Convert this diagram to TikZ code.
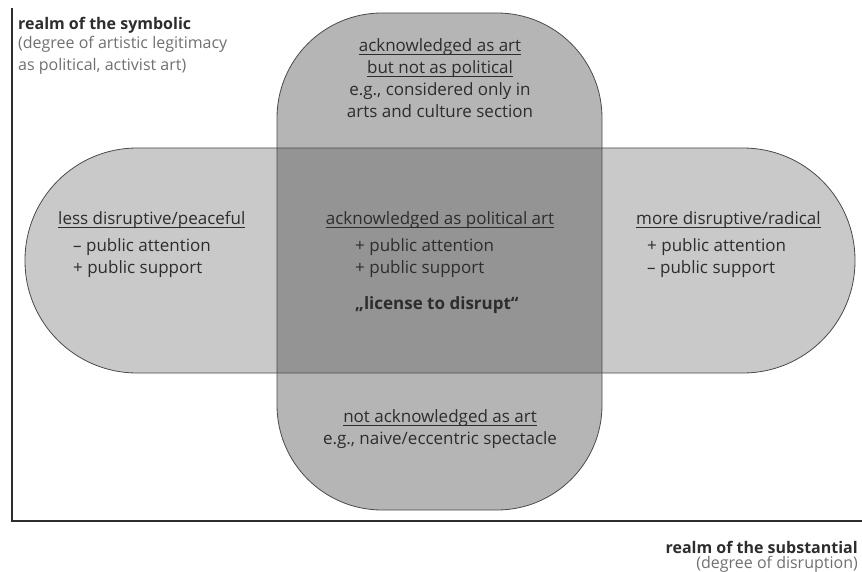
\documentclass[tikz,border=0pt]{standalone}
\usepackage{fontspec}
\setmainfont{Open Sans}
\usepackage{tikz}
\usetikzlibrary{positioning}

% underline sitting close to the baseline
\newcommand{\ulin}[1]{\setbox0\hbox{#1}\leavevmode\rlap{\rule[-3pt]{\wd0}{0.7pt}}\box0}

\definecolor{bandgray}{HTML}{C9C9C9}
\definecolor{stemgray}{HTML}{B5B5B5}
\definecolor{coregray}{HTML}{949494}
\definecolor{linegray}{HTML}{4A4A4A}
\definecolor{inkgray}{HTML}{2D2D2D}
\definecolor{notegray}{HTML}{707070}

\tikzset{
  txt/.style={font=\fontsize{17}{22}\selectfont, text=inkgray, inner sep=0pt},
  axistxt/.style={txt, font=\fontsize{16}{22}\selectfont},
  note/.style={axistxt, text=notegray},
  outline/.style={draw=linegray, line width=0.8pt},
  axis/.style={draw=inkgray, line width=2pt}
}

\begin{document}
\begin{tikzpicture}[x=1pt,y=-1pt]
        \useasboundingbox (0,0) rectangle (862,572);

        % Horizontal band: degree of disruption
        \fill[bandgray, rounded corners=112] (25,148) rectangle (855,373);
        % Vertical band: artistic legitimacy
        \fill[stemgray, rounded corners=105] (277,13) rectangle (602,510);
        % Where both bands meet
        \fill[coregray] (277,148) rectangle (602,373);
        % Outlines on top of the fills
        \draw[outline, rounded corners=112] (25,148) rectangle (855,373);
        \draw[outline, rounded corners=105] (277,13) rectangle (602,510);

        % Axes
        \coordinate (top) at (12,8);
        \coordinate (origin) at (12,521);
        \coordinate (right) at (862,521);
        \draw[axis] (top) -- (origin) -- (right);

        % Axis labels
        \node[axistxt, anchor=west] (symb) at (18,25) {\textbf{realm of the symbolic}};
        \node[note, anchor=north west, align=left] (symbnote) at (18,36)
            {(degree of artistic legitimacy\\as political, activist art)};
        \node[axistxt, anchor=east] (subst) at (858,547) {\textbf{realm of the substantial}};
        \node[note, anchor=east] (substnote) at (858,564) {(degree of disruption)};

        % Upper part of the vertical band
        \node[txt, align=center] (upper) at (440,78) {
            \ulin{acknowledged as art}\\
            \ulin{but not as political}\\
            e.g., considered only in\\
            arts and culture section
        };

        % Left end of the horizontal band
        \node[txt, anchor=west] (less) at (58,220) {\ulin{less disruptive/peaceful}};
        \node[txt, anchor=north west, align=left] (lesslist) at (73,238) {– public attention\\+ public support};

        % Centre
        \node[txt] (core) at (440,220) {\ulin{acknowledged as political art}};
        \node[txt, anchor=north west, align=left] (corelist) at (355,238) {+ public attention\\+ public support};
        \node[txt, anchor=west] (license) at (355,305) {\textbf{„license to disrupt“}};

        % Right end of the horizontal band
        \node[txt, anchor=west] (more) at (636,220) {\ulin{more disruptive/radical}};
        \node[txt, anchor=north west, align=left] (morelist) at (647,238) {+ public attention\\– public support};

        % Lower part of the vertical band
        \node[txt, align=center] (lower) at (440,429) {
            \ulin{not acknowledged as art}\\
            e.g., naive/eccentric spectacle
        };
    \end{tikzpicture}
\end{document}
